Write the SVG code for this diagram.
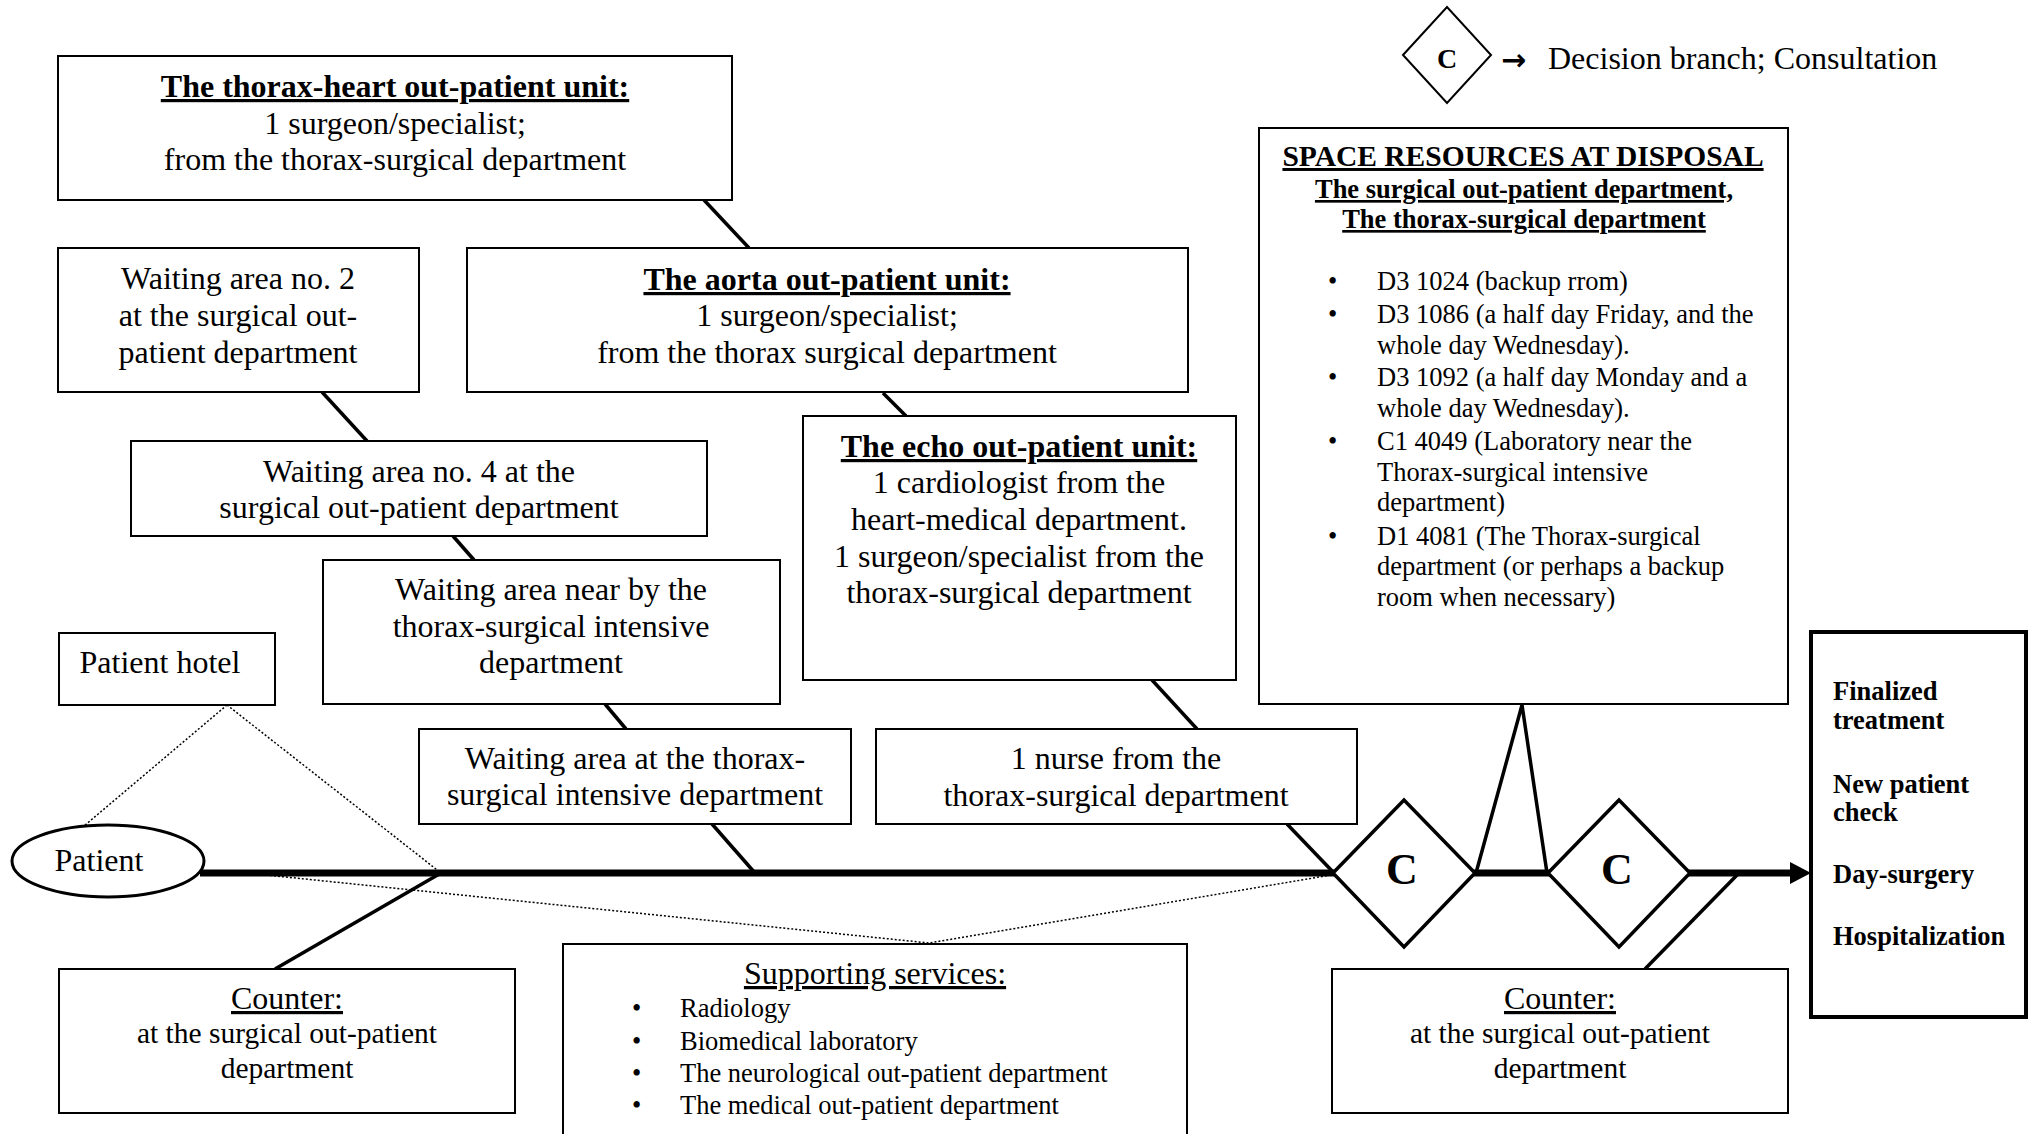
<svg xmlns="http://www.w3.org/2000/svg" width="2034" height="1134" viewBox="0 0 2034 1134">
<style>
text{font-family:"Liberation Serif","Times New Roman",serif;fill:#000}
.t{font-size:32px;text-anchor:middle}
.c{font-size:29.5px;text-anchor:middle}
.b{font-weight:bold}
.u{text-decoration:underline}
.s{font-size:26.5px}
.box{fill:#fff;stroke:#000;stroke-width:2}
.con{stroke:#000;stroke-width:3.5;fill:none}
.main{stroke:#000;stroke-width:7;fill:none}
.dot{stroke:#000;stroke-width:1.5;stroke-dasharray:2 2;fill:none}
.dia{fill:#fff;stroke:#000;stroke-width:3.5}
</style>
<rect width="2034" height="1134" fill="#fff"/>

<g id="connectors">
<line class="dot" x1="227" y1="705" x2="84" y2="826"/>
<line class="dot" x1="227" y1="705" x2="441" y2="873"/>
<polyline class="dot" points="266,875 929,943 1331,875"/>
<line class="main" x1="200" y1="873" x2="1335" y2="873"/>
<line class="main" x1="1473" y1="873" x2="1550" y2="873"/>
<line class="main" x1="1688" y1="873" x2="1793" y2="873"/>
<polygon points="1790,862 1811,873 1790,884" fill="#000"/>
<line class="con" x1="704" y1="200" x2="749" y2="248"/>
<line class="con" x1="322" y1="392" x2="367" y2="441"/>
<line class="con" x1="883" y1="393" x2="906" y2="416"/>
<line class="con" x1="453" y1="536" x2="474" y2="560"/>
<line class="con" x1="605" y1="704" x2="626" y2="729"/>
<line class="con" x1="712" y1="824" x2="755" y2="873"/>
<line class="con" x1="1152" y1="680" x2="1197" y2="729"/>
<line class="con" x1="1287" y1="824" x2="1334" y2="873"/>
<line class="con" x1="441" y1="873" x2="275" y2="969"/>
<line class="con" x1="1739" y1="873" x2="1645" y2="969"/>
<polyline class="con" points="1476,873 1522,705 1547,873"/>
</g>

<g id="legend">
<polygon points="1403,55 1447,7 1491,55 1447,103" fill="#fff" stroke="#000" stroke-width="2"/>
<text x="1447" y="68" class="b" font-size="28" text-anchor="middle">C</text>
<text x="1501" y="70" font-size="30" font-weight="bold" style="font-family:'DejaVu Sans',sans-serif">→</text>
<text x="1548" y="69" font-size="32">Decision branch; Consultation</text>
</g>

<g id="thorax-heart">
<rect class="box" x="58" y="56" width="674" height="144"/>
<text class="t b u" x="395" y="97">The thorax-heart out-patient unit:</text>
<text class="t" x="395" y="134">1 surgeon/specialist;</text>
<text class="t" x="395" y="170">from the thorax-surgical department</text>
</g>

<g id="waiting2">
<rect class="box" x="58" y="248" width="361" height="144"/>
<text class="t" x="238" y="289">Waiting area no. 2</text>
<text class="t" x="238" y="326">at the surgical out-</text>
<text class="t" x="238" y="363">patient department</text>
</g>

<g id="aorta">
<rect class="box" x="467" y="248" width="721" height="144"/>
<text class="t b u" x="827" y="290">The aorta out-patient unit:</text>
<text class="t" x="827" y="326">1 surgeon/specialist;</text>
<text class="t" x="827" y="363">from the thorax surgical department</text>
</g>

<g id="waiting4">
<rect class="box" x="131" y="441" width="576" height="95"/>
<text class="t" x="419" y="482">Waiting area no. 4 at the</text>
<text class="t" x="419" y="518">surgical out-patient department</text>
</g>

<g id="echo">
<rect class="box" x="803" y="416" width="433" height="264"/>
<text class="t b u" x="1019" y="457">The echo out-patient unit:</text>
<text class="t" x="1019" y="493">1 cardiologist from the</text>
<text class="t" x="1019" y="530">heart-medical department.</text>
<text class="t" x="1019" y="567">1 surgeon/specialist from the</text>
<text class="t" x="1019" y="603">thorax-surgical department</text>
</g>

<g id="waiting-nearby">
<rect class="box" x="323" y="560" width="457" height="144"/>
<text class="t" x="551" y="600">Waiting area near by the</text>
<text class="t" x="551" y="637">thorax-surgical intensive</text>
<text class="t" x="551" y="673">department</text>
</g>

<g id="patient-hotel">
<rect class="box" x="59" y="633" width="216" height="72"/>
<text class="t" x="160" y="673">Patient hotel</text>
</g>

<g id="waiting-thorax">
<rect class="box" x="419" y="729" width="432" height="95"/>
<text class="t" x="635" y="769">Waiting area at the thorax-</text>
<text class="t" x="635" y="805">surgical intensive department</text>
</g>

<g id="nurse">
<rect class="box" x="876" y="729" width="481" height="95"/>
<text class="t" x="1116" y="769">1 nurse from the</text>
<text class="t" x="1116" y="806">thorax-surgical department</text>
</g>

<g id="patient">
<ellipse cx="108" cy="861" rx="96" ry="36" fill="#fff" stroke="#000" stroke-width="3"/>
<text class="t" x="99" y="871">Patient</text>
</g>

<g id="space-resources">
<rect class="box" x="1259" y="128" width="529" height="576"/>
<text class="b u" x="1523" y="166" font-size="29.5" text-anchor="middle">SPACE RESOURCES AT DISPOSAL</text>
<text class="b u s" x="1524" y="198" text-anchor="middle">The surgical out-patient department,</text>
<text class="b u s" x="1524" y="228" text-anchor="middle">The thorax-surgical department</text>
<text class="s" x="1328" y="290">•</text><text class="s" x="1377" y="290">D3 1024  (backup rrom)</text>
<text class="s" x="1328" y="323">•</text><text class="s" x="1377" y="323">D3 1086 (a half day Friday, and the</text>
<text class="s" x="1377" y="354">whole day Wednesday).</text>
<text class="s" x="1328" y="386">•</text><text class="s" x="1377" y="386">D3 1092 (a half day Monday and a</text>
<text class="s" x="1377" y="417">whole day Wednesday).</text>
<text class="s" x="1328" y="450">•</text><text class="s" x="1377" y="450">C1 4049 (Laboratory near the</text>
<text class="s" x="1377" y="481">Thorax-surgical intensive</text>
<text class="s" x="1377" y="511">department)</text>
<text class="s" x="1328" y="545">•</text><text class="s" x="1377" y="545">D1 4081 (The Thorax-surgical</text>
<text class="s" x="1377" y="575">department (or perhaps a backup</text>
<text class="s" x="1377" y="606">room when necessary)</text>
</g>

<g id="decision1">
<polygon class="dia" points="1333,873 1404,800 1475,873 1404,947"/>
<text class="b" x="1402" y="884" font-size="44" text-anchor="middle">C</text>
</g>

<g id="decision2">
<polygon class="dia" points="1548,873 1619,800 1690,873 1619,947"/>
<text class="b" x="1617" y="884" font-size="44" text-anchor="middle">C</text>
</g>

<g id="outcomes">
<rect x="1811" y="632" width="215" height="385" fill="#fff" stroke="#000" stroke-width="4"/>
<g class="b" font-size="26.5">
<text x="1833" y="700">Finalized</text>
<text x="1833" y="729">treatment</text>
<text x="1833" y="793">New patient</text>
<text x="1833" y="821">check</text>
<text x="1833" y="883">Day-surgery</text>
<text x="1833" y="945">Hospitalization</text>
</g>
</g>

<g id="counter-left">
<rect class="box" x="59" y="969" width="456" height="144"/>
<text class="t u" x="287" y="1009">Counter:</text>
<text class="c" x="287" y="1043">at the surgical out-patient</text>
<text class="c" x="287" y="1078">department</text>
</g>

<g id="supporting">
<rect class="box" x="563" y="944" width="624" height="220"/>
<text class="t u" x="875" y="984">Supporting services:</text>
<text class="s" x="632" y="1017">•</text><text class="s" x="680" y="1017">Radiology</text>
<text class="s" x="632" y="1050">•</text><text class="s" x="680" y="1050">Biomedical laboratory</text>
<text class="s" x="632" y="1082">•</text><text class="s" x="680" y="1082">The neurological out-patient department</text>
<text class="s" x="632" y="1114">•</text><text class="s" x="680" y="1114">The medical out-patient department</text>
</g>

<g id="counter-right">
<rect class="box" x="1332" y="969" width="456" height="144"/>
<text class="t u" x="1560" y="1009">Counter:</text>
<text class="c" x="1560" y="1043">at the surgical out-patient</text>
<text class="c" x="1560" y="1078">department</text>
</g>
</svg>
